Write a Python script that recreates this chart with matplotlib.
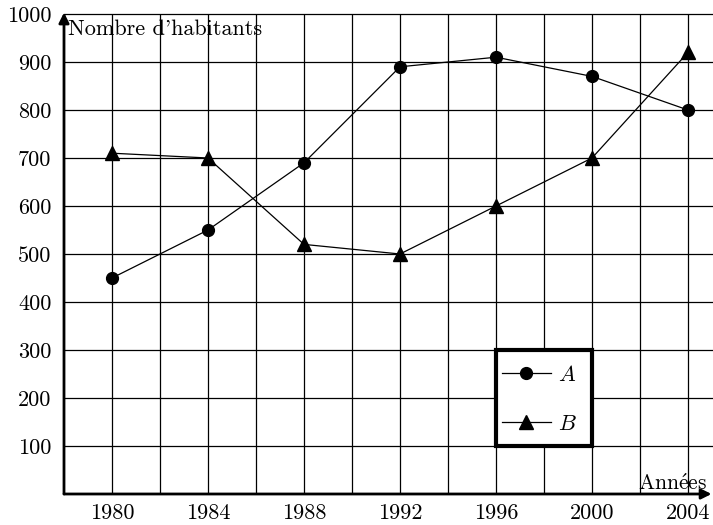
import numpy as np
import matplotlib.pyplot as plt
from matplotlib.patches import Rectangle

plt.rcParams['font.family'] = ['cmr10', 'DejaVu Serif']
plt.rcParams['mathtext.fontset'] = 'cm'
plt.rcParams['axes.formatter.use_mathtext'] = True

# donnees
annees = [1980, 1984, 1988, 1992, 1996, 2000, 2004]
ville_a = [450, 550, 690, 890, 910, 870, 800]
ville_b = [710, 700, 520, 500, 600, 700, 920]
yticks = [100, 200, 300, 400, 500, 600, 700, 800, 900, 1000]

fig = plt.figure(figsize=(7.13, 5.25), dpi=100)
ax = fig.add_axes([64/713, 31/525, 648/713, 480/525])
ax.set_xlim(1978, 2005)
ax.set_ylim(0, 1000)

# quadrillage
for x in range(1980, 2005, 2):
    ax.plot([x, x], [0, 1000], color='black', lw=0.9, zorder=1)
for y in yticks:
    ax.plot([1978, 2005], [y, y], color='black', lw=0.9, zorder=1, clip_on=False)

ax.plot(annees, ville_a, color='black', lw=0.9, marker='o', ms=8.5, label='$A$', zorder=3)
ax.plot(annees, ville_b, color='black', lw=0.9, marker='^', ms=10, label='$B$', zorder=3)

# axes avec fleches
for s in ax.spines.values():
    s.set_visible(False)
ax.annotate('', xy=(2004.98, 0), xytext=(1978, 0), xycoords='data',
            arrowprops=dict(arrowstyle='-|>', lw=2, color='black', mutation_scale=15,
                            shrinkA=0, shrinkB=0), annotation_clip=False)
ax.annotate('', xy=(1978, 1003), xytext=(1978, 0), xycoords='data',
            arrowprops=dict(arrowstyle='-|>', lw=2, color='black', mutation_scale=15,
                            shrinkA=0, shrinkB=0), annotation_clip=False)

ax.set_xticks(annees)
ax.set_xticklabels([str(a) for a in annees])
ax.set_yticks(yticks)
ax.set_yticklabels([str(v) for v in yticks])
ax.tick_params(length=0, labelsize=16)
ax.tick_params(axis='x', pad=7)
ax.tick_params(axis='y', pad=9)

ax.text(1978.15, 956, "Nombre d'habitants", fontsize=16, ha='left', va='baseline')
ax.text(2004.8, 8, r"Ann$\acute{\mathrm{e}}$es", fontsize=15.5, ha='right', va='baseline')

# cadre de la legende
ax.add_patch(Rectangle((1996, 100), 4, 200, facecolor='white', edgecolor='black',
                       lw=3, zorder=4))
leg = ax.legend(loc='center left', bbox_to_anchor=(1995.78, 197), bbox_transform=ax.transData,
                frameon=False, fontsize=16, handlelength=2.2, labelspacing=1.35,
                handletextpad=0.35, borderpad=0)
leg.set_zorder(5)

plt.savefig('out.png', dpi=100)
